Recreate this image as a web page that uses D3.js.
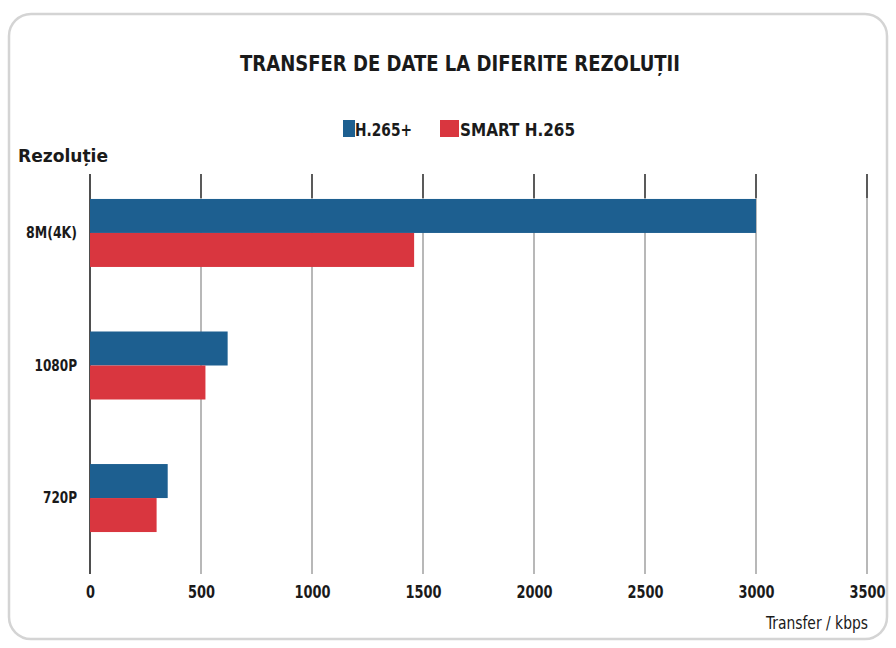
<!DOCTYPE html>
<html><head><meta charset="utf-8">
<script src="https://cdn.jsdelivr.net/npm/d3@7"></script>
<style>
body{margin:0;background:#fff;}
text{font-family:"DejaVu Sans","Liberation Sans",sans-serif;font-stretch:condensed;font-weight:bold;fill:#1a1a1a;}
</style></head>
<body><svg id="c" width="896" height="648"></svg>
<script>
const categories = ["8M(4K)", "1080P", "720P"];
const seriesNames = ["H.265+", "SMART H.265"];
const h265plus = [3000, 620, 350];
const smartH265 = [1460, 520, 300];
const tickValues = [0, 500, 1000, 1500, 2000, 2500, 3000, 3500];
const colors = ["#1d5f90", "#d9363f"];
const FONT = '"DejaVu Sans","Liberation Sans",sans-serif';

const svg = d3.select("#c");
svg.append("rect").attr("x",9).attr("y",14).attr("width",878).attr("height",625)
  .attr("rx",22).attr("fill","#fff").attr("stroke","#d4d4d4").attr("stroke-width",2.5);

const x = d3.scaleLinear().domain([0,3500]).range([90,867]);
const y = d3.scaleBand().domain(categories).range([169,562]).paddingInner(0.487).paddingOuter(0.226);
const ys = d3.scaleBand().domain(seriesNames).range([0,y.bandwidth()]);

svg.append("g").selectAll("line").data(tickValues).join("line")
  .attr("x1",d=>x(d)).attr("x2",d=>x(d)).attr("y1",174).attr("y2",574)
  .attr("stroke",d=>d===0?"#222":"#9a9a9a").attr("stroke-width",d=>d===0?1.6:1.4);
svg.append("g").selectAll("line").data(tickValues.slice(1)).join("line")
  .attr("x1",d=>x(d)).attr("x2",d=>x(d)).attr("y1",174).attr("y2",198)
  .attr("stroke","#333").attr("stroke-width",1.4);

const data = categories.map((c,i)=>({cat:c, vals:[h265plus[i], smartH265[i]]}));
const g = svg.append("g").selectAll("g").data(data).join("g")
  .attr("transform",d=>`translate(0,${y(d.cat)})`);
g.selectAll("rect").data(d=>d.vals.map((v,j)=>({s:seriesNames[j],v,j}))).join("rect")
  .attr("x",x(0)).attr("y",d=>ys(d.s)).attr("height",ys.bandwidth())
  .attr("width",d=>x(d.v)-x(0)).attr("fill",d=>colors[d.j]);

const xa = svg.append("g").attr("transform","translate(0,574)")
  .call(d3.axisBottom(x).tickValues(tickValues).tickSize(0).tickPadding(11).tickFormat(d3.format("d")));
xa.select(".domain").remove();
xa.selectAll("text").attr("font-size",18).style("font-family",FONT).style("font-stretch","condensed")
  .attr("font-weight","bold").attr("fill","#1a1a1a")
  .attr("textLength",function(){return this.textContent.length*9;}).attr("lengthAdjust","spacingAndGlyphs");

const ya = svg.append("g").attr("transform","translate(77,0)")
  .call(d3.axisLeft(y).tickSize(0).tickPadding(0));
ya.select(".domain").remove();
ya.selectAll("text").attr("font-size",16).style("font-family",FONT).style("font-stretch","condensed")
  .attr("font-weight","bold").attr("fill","#1a1a1a")
  .attr("textLength",function(){return this.textContent.length*8.5;}).attr("lengthAdjust","spacingAndGlyphs");

svg.append("text").attr("x",460).attr("y",71).attr("text-anchor","middle").attr("font-size",22)
  .attr("textLength",440).attr("lengthAdjust","spacingAndGlyphs")
  .text("TRANSFER DE DATE LA DIFERITE REZOLUȚII");
svg.append("text").attr("x",18).attr("y",162).attr("font-size",18)
  .attr("textLength",90).attr("lengthAdjust","spacingAndGlyphs").text("Rezoluție");
svg.append("text").attr("x",868).attr("y",629).attr("text-anchor","end").attr("font-size",18)
  .attr("textLength",102).attr("lengthAdjust","spacingAndGlyphs")
  .style("font-weight","normal").text("Transfer / kbps");

const leg = [{x:343,w:12,tx:355,tl:57},{x:440,w:19,tx:460,tl:115}];
seriesNames.forEach((s,i)=>{
  svg.append("rect").attr("x",leg[i].x).attr("y",120).attr("width",leg[i].w).attr("height",17).attr("fill",colors[i]);
  svg.append("text").attr("x",leg[i].tx).attr("y",136).attr("font-size",18)
    .attr("textLength",leg[i].tl).attr("lengthAdjust","spacingAndGlyphs").text(s);
});
</script></body></html>
